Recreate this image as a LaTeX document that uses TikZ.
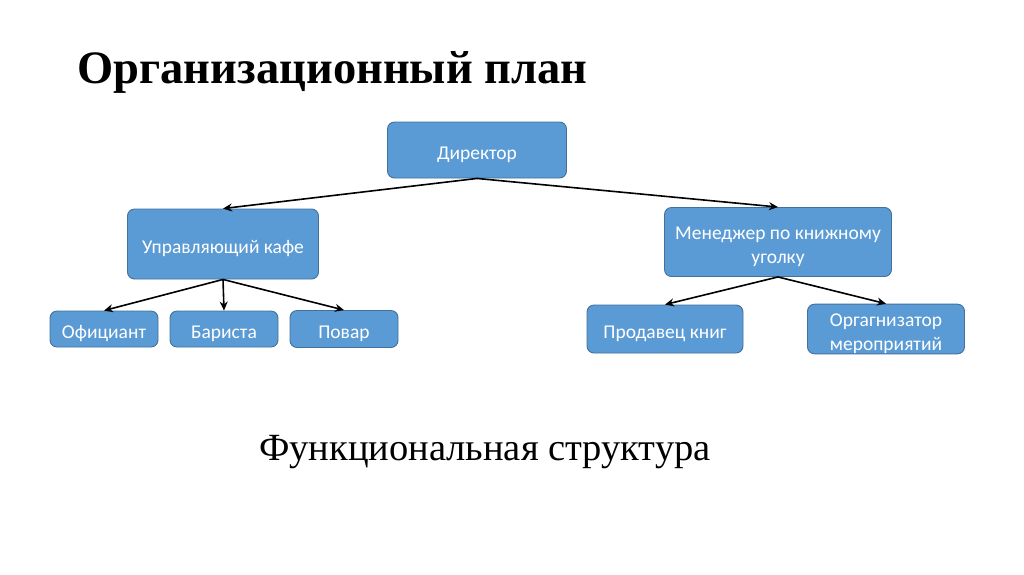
\documentclass[tikz,border=0pt]{standalone}
\usepackage{fontspec}
\setmainfont{Liberation Serif}
\newfontfamily\boxfont{Carlito}
\usetikzlibrary{arrows.meta,positioning}
\definecolor{boxfill}{RGB}{91,155,213}
\definecolor{boxline}{RGB}{65,113,156}
\tikzset{
    orgbox/.style={
        draw=boxline,
        fill=boxfill,
        line width=0.9pt,
        rounded corners=7pt,
        text=white,
        align=center,
        text depth=0pt,
        text height=19pt,
        font=\boxfont\fontsize{19.5}{24}\selectfont
    },
    % две строки в блоке
    twoline/.style={text height=43pt},
    % стрелка от начальника к подчинённому
    orgarrow/.style={
        line width=1.6pt,
        black,
        -{Stealth[length=9pt, width=8pt]}
    }
}

\begin{document}
\begin{tikzpicture}[x=1pt, y=-1pt]
	\useasboundingbox[fill=white] (0,0) rectangle (1024,574);
	\node [anchor=west, font=\bfseries\fontsize{46.5}{54}\selectfont] (title) at (74,72) {Организационный план};

	\node [orgbox, minimum width=179pt, minimum height=56pt] (dir) at (477,150) {Директор};
	\node [orgbox, minimum width=191pt, minimum height=70pt] (cafe) at (223,244) {Управляющий кафе};
	\node [orgbox, twoline, minimum width=227pt, minimum height=69pt] (book) at (778,242) {Менеджер по книжному\\уголку};

	\node [orgbox, minimum width=108pt, minimum height=36pt] (waiter) at (104,329) {Официант};
	\node [orgbox, minimum width=108pt, minimum height=36pt] (barista) at (224,329) {Бариста};
	\node [orgbox, minimum width=108pt, minimum height=37pt] (cook) at (344,329) {Повар};
	\node [orgbox, minimum width=156pt, minimum height=48pt] (seller) at (665,329) {Продавец книг};
	\node [orgbox, twoline, minimum width=157pt, minimum height=48pt] (events) at (886,329) {Оргагнизатор\\мероприятий};

	\draw[orgarrow] (dir.south) to (cafe.north);
	\draw[orgarrow] (dir.south) to (book.north);

	\draw[orgarrow] (cafe.south) to (waiter.north);
	\draw[orgarrow] (cafe.south) to (barista.north);
	\draw[orgarrow] (cafe.south) to (cook.north);

	\draw[orgarrow] (book.south) to (seller.north);
	\draw[orgarrow] (book.south) to (events.north);

	\node [font=\fontsize{38.5}{45}\selectfont] (sub) at (485,452) {Функциональная структура};
\end{tikzpicture}
\end{document}
